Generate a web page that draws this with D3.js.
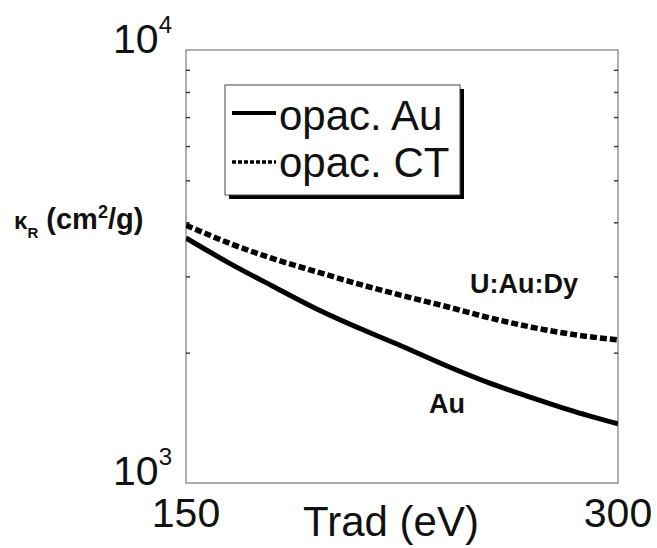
<!DOCTYPE html>
<html>
<head>
<meta charset="utf-8">
<script src="https://cdn.jsdelivr.net/npm/d3@7"></script>
<style>
  html, body { margin: 0; padding: 0; background: #fff; }
  svg { display: block; font-family: "Liberation Sans", Arial, Helvetica, sans-serif; }
</style>
</head>
<body>
<svg id="chart" width="657" height="548"></svg>
<script>
// Radiation temperature grid (eV)
const trad = [150, 165, 180, 195, 210, 225, 240, 255, 270, 285, 300];
// Rosseland mean opacity (cm^2/g)
const opacAu = [3680, 3220, 2850, 2530, 2280, 2070, 1870, 1705, 1575, 1462, 1370];
const opacCT = [3940, 3580, 3300, 3080, 2880, 2710, 2560, 2410, 2290, 2200, 2140];

const seriesNames = ["opac. Au", "opac. CT"];
const curveLabels = ["Au", "U:Au:Dy"];
const xTicks = [150, 300];
const yDecades = [1000, 10000];
const yMinorTicks = [2000, 3000, 4000, 5000, 6000, 7000, 8000, 9000];

const svg = d3.select("#chart");
const plot = { left: 186, right: 618, top: 50, bottom: 483 };

const x = d3.scaleLinear().domain([150, 300]).range([plot.left, plot.right]);
const y = d3.scaleLog().domain([1000, 10000]).range([plot.bottom, plot.top]);

// frame
svg.append("rect")
  .attr("x", plot.left).attr("y", plot.top)
  .attr("width", plot.right - plot.left).attr("height", plot.bottom - plot.top)
  .attr("fill", "none").attr("stroke", "#7a7a7a").attr("stroke-width", 1.2);

// inward minor ticks on both sides
const leftAxis = d3.axisLeft(y).tickValues(yMinorTicks).tickSize(-4).tickFormat("");
const rightAxis = d3.axisRight(y).tickValues(yMinorTicks).tickSize(-4).tickFormat("");
[[leftAxis, plot.left], [rightAxis, plot.right]].forEach(([ax, px]) => {
  const g = svg.append("g").attr("transform", `translate(${px},0)`).call(ax);
  g.select(".domain").remove();
  g.selectAll("line").attr("stroke", "#333").attr("stroke-width", 1.4);
});

// y decade labels: 10^3, 10^4
yDecades.forEach(v => {
  const t = svg.append("text")
    .attr("x", 172).attr("y", y(v) + (v === 10000 ? 3 : 2))
    .attr("text-anchor", "end").attr("font-size", 41).attr("fill", "#111");
  t.append("tspan").text("10");
  t.append("tspan").attr("font-size", 24).attr("dy", -20).text(Math.round(Math.log10(v)));
});

// x tick labels
svg.append("g").selectAll("text").data(xTicks).join("text")
  .attr("x", d => x(d)).attr("y", 527)
  .attr("text-anchor", "middle").attr("font-size", 41).attr("fill", "#111")
  .text(d => d);

// x axis title
svg.append("text")
  .attr("x", 391).attr("y", 536)
  .attr("text-anchor", "middle").attr("font-size", 42).attr("fill", "#111")
  .text("Trad (eV)");

// y axis title
const yt = svg.append("text")
  .attr("x", 14).attr("y", 229)
  .attr("font-size", 29).attr("font-weight", "bold").attr("fill", "#111");
yt.append("tspan").attr("font-size", 24).text("κ");
yt.append("tspan").attr("font-size", 15).attr("dy", 9).text("R");
yt.append("tspan").attr("dy", -9).text(" (cm");
yt.append("tspan").attr("font-size", 18).attr("dy", -11).text("2");
yt.append("tspan").attr("dy", 11).text("/g)");

// curves
svg.append("clipPath").attr("id", "plotClip").append("rect")
  .attr("x", plot.left).attr("y", plot.top)
  .attr("width", plot.right - plot.left).attr("height", plot.bottom - plot.top);

const line = d3.line()
  .x(d => x(d[0])).y(d => y(d[1]))
  .curve(d3.curveMonotoneX);

const series = [
  { values: opacAu, dash: null, width: 5 },
  { values: opacCT, dash: "7,3", width: 5.5 }
];

svg.append("g").attr("clip-path", "url(#plotClip)")
  .selectAll("path").data(series).join("path")
  .attr("d", s => line(trad.map((t, i) => [t, s.values[i]])))
  .attr("fill", "none").attr("stroke", "#000").attr("stroke-width", s => s.width)
  .attr("stroke-dasharray", s => s.dash);

// curve annotations
svg.append("text").attr("x", 429).attr("y", 413)
  .attr("font-size", 27).attr("font-weight", "bold").attr("fill", "#111")
  .text(curveLabels[0]);
svg.append("text").attr("x", 470).attr("y", 293)
  .attr("font-size", 27).attr("font-weight", "bold").attr("fill", "#111")
  .text(curveLabels[1]);

// legend with drop shadow
const lg = { x: 225, y: 85, w: 235, h: 110 };
svg.append("rect").attr("x", lg.x + 4).attr("y", lg.y + 4)
  .attr("width", lg.w).attr("height", lg.h).attr("fill", "#000");
svg.append("rect").attr("x", lg.x).attr("y", lg.y)
  .attr("width", lg.w).attr("height", lg.h)
  .attr("fill", "#fff").attr("stroke", "#444").attr("stroke-width", 1);

const legendRows = [
  { name: seriesNames[0], dash: null, width: 4, ly: 113, ty: 130 },
  { name: seriesNames[1], dash: "4,2", width: 3.5, ly: 162, ty: 177 }
];
legendRows.forEach(r => {
  svg.append("line")
    .attr("x1", 232).attr("x2", 276).attr("y1", r.ly).attr("y2", r.ly)
    .attr("stroke", "#000").attr("stroke-width", r.width)
    .attr("stroke-dasharray", r.dash);
  svg.append("text").attr("x", 279).attr("y", r.ty)
    .attr("font-size", 42).attr("fill", "#111")
    .text(r.name);
});
</script>
</body>
</html>
